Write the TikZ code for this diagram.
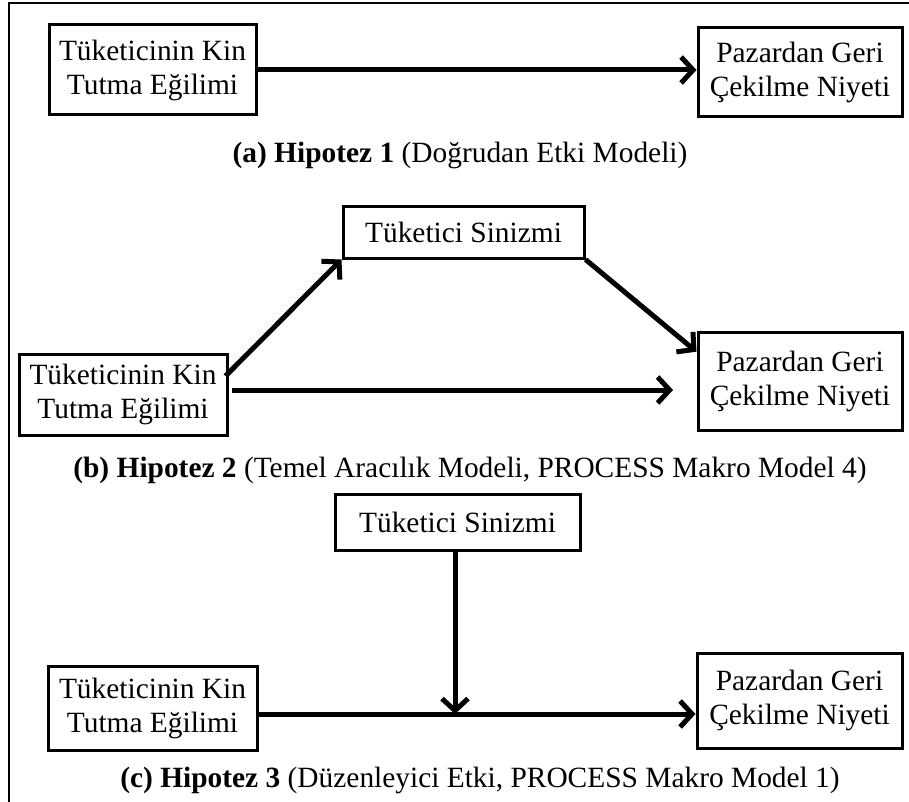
\documentclass[tikz,border=0pt]{standalone}
\usepackage{fontspec}
\setmainfont{Liberation Serif}
\usetikzlibrary{arrows.meta,calc}
\tikzset{
  boxnode/.style={draw, line width=3pt, rectangle, align=center, inner sep=0pt,
    font=\fontsize{29.4}{34}\selectfont},
  capnode/.style={align=center, inner sep=0pt, font=\fontsize{29.4}{34}\selectfont},
  arr/.style={line width=5pt, -{Straight Barb[length=12pt,width=26pt]}},
  framebox/.style={line width=2.5pt}
}
\begin{document}
\begin{tikzpicture}[x=1pt,y=-1pt]
\useasboundingbox[fill=white] (0,0) rectangle (909,802);
\draw[framebox] (9,3) rectangle (940,840);
% (a)
\node[boxnode, minimum width=207pt, minimum height=90pt] (A1) at (152.5,70) {Tüketicinin Kin\\Tutma Eğilimi};
\node[boxnode, minimum width=204pt, minimum height=89pt] (A2) at (800,72.5) {Pazardan Geri\\Çekilme Niyeti};
\draw[arr] (A1.east |- 0,70) -- (A2.west |- 0,70);
\node[capnode] (capA) at (460,155) {\textbf{(a) Hipotez 1} (Doğrudan Etki Modeli)};
% (b)
\node[boxnode, minimum width=208pt, minimum height=81pt] (B1) at (123,394.5) {Tüketicinin Kin\\Tutma Eğilimi};
\node[boxnode, minimum width=241pt, minimum height=51pt] (BM) at (463.5,232.5) {Tüketici Sinizmi};
\node[boxnode, minimum width=204pt, minimum height=98pt] (B2) at (800,381) {Pazardan Geri\\Çekilme Niyeti};
\coordinate (Bend) at (673,390);
\draw[arr] ([xshift=-3pt,yshift=-2pt]B1.north east |- 0,374) -- (BM.south west);
\draw[arr] (BM.south east) -- ($(B2.north west)!0.21!(B2.south west)$);
\draw[arr] ([xshift=3pt]B1.east |- Bend) -- (Bend);
\node[capnode] (capB) at (470,470) {\textbf{(b) Hipotez 2} (Temel Aracılık Modeli, PROCESS Makro Model 4)};
% (c)
\node[boxnode, minimum width=245pt, minimum height=56pt] (CM) at (457.5,522) {Tüketici Sinizmi};
\node[boxnode, minimum width=209pt, minimum height=84pt] (C1) at (152.5,708) {Tüketicinin Kin\\Tutma Eğilimi};
\node[boxnode, minimum width=205pt, minimum height=95pt] (C2) at (799.5,700.5) {Pazardan Geri\\Çekilme Niyeti};
\coordinate (Cmeet) at (455,714);
\draw[arr] (CM.south -| Cmeet) -- (Cmeet);
\draw[arr] (C1.east |- Cmeet) -- (C2.west |- Cmeet);
\node[capnode] (capC) at (480,780) {\textbf{(c) Hipotez 3} (Düzenleyici Etki, PROCESS Makro Model 1)};
\end{tikzpicture}
\end{document}
